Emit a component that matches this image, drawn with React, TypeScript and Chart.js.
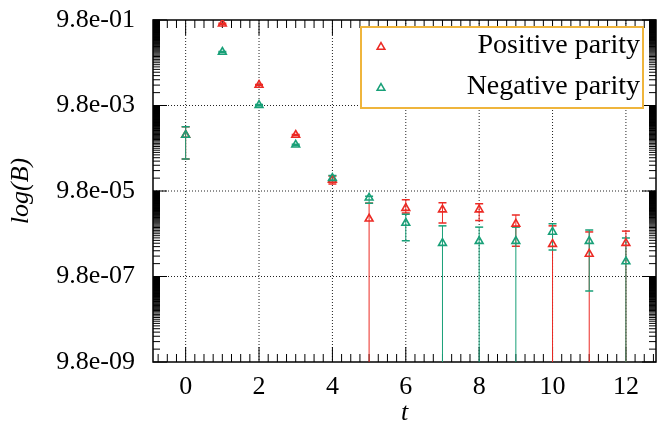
import React, { useEffect, useRef } from "react";
import { Chart, registerables } from "chart.js";

Chart.register(...registerables);

// ---- data ----
const tValues = [0, 1, 2, 3, 4, 5, 6, 7, 8, 9, 10, 11, 12];

const posVal = [2.0e-3, 0.8, 0.0296, 2.0e-3, 1.78e-4, 2.2e-5, 3.9e-5, 3.6e-5, 3.6e-5, 1.67e-5, 5.6e-6, 3.3e-6, 5.9e-6];
const posLo = [5.5e-4, 0.78, 0.029, 1.95e-3, 1.42e-4, 0, 3.0e-5, 1.75e-5, 2.0e-5, 5.0e-6, 0, 0, 0];
const posHi = [3.1e-3, 0.82, 0.0302, 2.05e-3, 2.2e-4, 5.1e-5, 6.1e-5, 5.2e-5, 4.9e-5, 2.7e-5, 1.5e-5, 1.08e-5, 1.13e-5];

const negVal = [2.0e-3, 0.175, 0.0100, 1.18e-3, 1.96e-4, 6.8e-5, 1.75e-5, 5.9e-6, 6.6e-6, 6.6e-6, 1.08e-5, 6.6e-6, 2.2e-6];
const negLo = [5.5e-4, 0.17, 0.0097, 1.14e-3, 1.75e-4, 5.1e-5, 6.7e-6, 0, 0, 0, 4.1e-6, 4.5e-7, 0];
const negHi = [3.1e-3, 0.18, 0.0103, 1.22e-3, 2.25e-4, 7.4e-5, 2.8e-5, 1.5e-5, 1.4e-5, 1.4e-5, 1.67e-5, 1.2e-5, 7.8e-6];

const seriesLabels = ["Positive parity", "Negative parity"];
const seriesColors = ["#ec2a24", "#18a078"];

const yTickValues = [9.8e-9, 9.8e-7, 9.8e-5, 9.8e-3, 9.8e-1];
const yTickLabels = ["9.8e-09", "9.8e-07", "9.8e-05", "9.8e-03", "9.8e-01"];
const xTickValues = [0, 2, 4, 6, 8, 10, 12];

const xTitle = "t";
const yTitle = "log(B)";

const X_MIN = -0.89;
const X_MAX = 12.82;
const Y_MIN = 9.8e-9;
const Y_MAX = 9.8e-1;

const FONT = "'Liberation Serif', 'Times New Roman', serif";

const errLo = [posLo, negLo];
const errHi = [posHi, negHi];

function triangle(ctx: CanvasRenderingContext2D, x: number, y: number, r: number) {
  ctx.beginPath();
  for (let i = 0; i < 3; i++) {
    const ang = -Math.PI / 2 + (i * 2 * Math.PI) / 3;
    const px = x + Math.cos(ang) * r;
    const py = y + Math.sin(ang) * r;
    if (i === 0) ctx.moveTo(px, py);
    else ctx.lineTo(px, py);
  }
  ctx.closePath();
}

const framePlugin = {
  id: "frameTicks",
  beforeDatasetsDraw(chart: any) {
    const { ctx, chartArea: a, scales } = chart;
    const x = scales.x;
    const y = scales.y;
    ctx.save();
    // dotted grid
    ctx.strokeStyle = "#222";
    ctx.lineWidth = 1;
    ctx.setLineDash([1, 2]);
    for (const v of xTickValues) {
      const px = x.getPixelForValue(v);
      ctx.beginPath();
      ctx.moveTo(px, a.top);
      ctx.lineTo(px, a.bottom);
      ctx.stroke();
    }
    for (const v of yTickValues) {
      if (v === Y_MIN || v === Y_MAX) continue;
      const py = y.getPixelForValue(v);
      ctx.beginPath();
      ctx.moveTo(a.left, py);
      ctx.lineTo(a.right, py);
      ctx.stroke();
    }
    ctx.setLineDash([]);

    // x ticks
    ctx.strokeStyle = "#000";
    ctx.lineWidth = 1;
    const start = Math.ceil(X_MIN * 4) / 4;
    for (let v = start; v <= X_MAX + 1e-9; v += 0.25) {
      const isMajor = xTickValues.some((m) => Math.abs(m - v) < 1e-6);
      const len = isMajor ? 15 : 8;
      const px = x.getPixelForValue(v);
      ctx.beginPath();
      ctx.moveTo(px, a.bottom);
      ctx.lineTo(px, a.bottom - len);
      ctx.moveTo(px, a.top);
      ctx.lineTo(px, a.top + len);
      ctx.stroke();
    }
    // y ticks
    for (let i = 0; i < yTickValues.length; i++) {
      const base = yTickValues[i];
      const py = y.getPixelForValue(base);
      ctx.beginPath();
      ctx.moveTo(a.left, py);
      ctx.lineTo(a.left + 14, py);
      ctx.moveTo(a.right, py);
      ctx.lineTo(a.right - 14, py);
      ctx.stroke();
      if (i < yTickValues.length - 1) {
        for (let k = 2; k < 100; k++) {
          const pm = y.getPixelForValue(base * k);
          ctx.beginPath();
          ctx.moveTo(a.left, pm);
          ctx.lineTo(a.left + 7, pm);
          ctx.moveTo(a.right, pm);
          ctx.lineTo(a.right - 7, pm);
          ctx.stroke();
        }
      }
    }
    // frame
    ctx.lineWidth = 1.5;
    ctx.strokeRect(a.left, a.top, a.right - a.left, a.bottom - a.top);

    // error bars
    ctx.beginPath();
    ctx.rect(a.left, a.top, a.right - a.left, a.bottom - a.top);
    ctx.clip();
    for (let d = 0; d < 2; d++) {
      ctx.strokeStyle = seriesColors[d];
      for (let i = 0; i < tValues.length; i++) {
        const px = x.getPixelForValue(tValues[i]);
        const hi = errHi[d][i];
        const lo = errLo[d][i];
        const pyHi = y.getPixelForValue(hi);
        const pyLo = lo > 0 ? y.getPixelForValue(lo) : a.bottom;
        ctx.lineWidth = 1;
        ctx.beginPath();
        ctx.moveTo(px, pyHi);
        ctx.lineTo(px, pyLo);
        ctx.stroke();
        ctx.lineWidth = 1.5;
        ctx.beginPath();
        ctx.moveTo(px - 4, pyHi);
        ctx.lineTo(px + 4, pyHi);
        if (lo > 0) {
          ctx.moveTo(px - 4, pyLo);
          ctx.lineTo(px + 4, pyLo);
        }
        ctx.stroke();
      }
    }
    ctx.restore();
  },
  afterDatasetsDraw(chart: any) {
    const { ctx, chartArea: a } = chart;
    const bw = 282;
    const bh = 81;
    const bx = a.right - 13 - bw;
    const by = a.top + 7;
    ctx.save();
    ctx.fillStyle = "#ffffff";
    ctx.fillRect(bx, by, bw, bh);
    ctx.strokeStyle = "#efb53c";
    ctx.lineWidth = 2;
    ctx.strokeRect(bx, by, bw, bh);
    ctx.font = `28px ${FONT}`;
    ctx.textAlign = "right";
    ctx.textBaseline = "middle";
    ctx.fillStyle = "#000";
    for (let d = 0; d < 2; d++) {
      const cy = by + 20 + d * 41;
      ctx.strokeStyle = seriesColors[d];
      ctx.lineWidth = 1.5;
      triangle(ctx, bx + 20, cy, 4.5);
      ctx.stroke();
      ctx.fillText(seriesLabels[d], bx + bw - 3, cy - 1);
    }
    ctx.restore();
  },
};

export default function App() {
  const canvasRef = useRef<HTMLCanvasElement | null>(null);

  useEffect(() => {
    const canvas = canvasRef.current;
    if (!canvas) return;
    const vals = [posVal, negVal];
    const chart = new Chart(canvas, {
      type: "scatter",
      data: {
        datasets: [0, 1].map((d) => ({
          label: seriesLabels[d],
          data: tValues.map((t, i) => ({ x: t, y: vals[d][i] })),
          order: 1 - d,
          pointStyle: "triangle",
          pointRadius: 4.5,
          pointHoverRadius: 4.5,
          borderWidth: 1.6,
          borderColor: seriesColors[d],
          backgroundColor: "rgba(0,0,0,0)",
          showLine: false,
        })),
      },
      options: {
        animation: false,
        responsive: false,
        devicePixelRatio: 1,
        events: [],
        layout: { autoPadding: false, padding: { left: 0, right: 1, top: 20, bottom: 0 } },
        plugins: {
          legend: { display: false },
          tooltip: { enabled: false },
        },
        scales: {
          x: {
            type: "linear",
            bounds: "data",
            min: X_MIN,
            max: X_MAX,
            grid: { display: false, drawTicks: false, tickLength: 0 },
            border: { display: false },
            afterBuildTicks: (s: any) => {
              s.ticks = xTickValues.map((v) => ({ value: v }));
            },
            afterFit: (s: any) => {
              s.height = 62;
              s.paddingLeft = 0;
              s.paddingRight = 0;
              s.paddingTop = 0;
              s.paddingBottom = 0;
            },
            ticks: {
              font: { family: FONT, size: 26 },
              color: "#000",
              padding: 10,
              maxRotation: 0,
              autoSkip: false,
            },
            title: {
              display: true,
              text: xTitle,
              color: "#000",
              font: { family: FONT, size: 26, style: "italic", lineHeight: 1 },
              padding: { top: 0, bottom: -2 },
            },
          },
          y: {
            type: "logarithmic",
            bounds: "data",
            min: Y_MIN,
            max: Y_MAX,
            grid: { display: false, drawTicks: false, tickLength: 0 },
            border: { display: false },
            afterBuildTicks: (s: any) => {
              s.ticks = yTickValues.map((v) => ({ value: v }));
            },
            afterFit: (s: any) => {
              s.width = 153;
              s.paddingLeft = 0;
              s.paddingRight = 0;
              s.paddingTop = 0;
              s.paddingBottom = 0;
            },
            ticks: {
              font: { family: FONT, size: 26 },
              color: "#000",
              padding: 18,
              autoSkip: false,
              callback: (_v: any, i: number) => yTickLabels[i],
            },
            title: {
              display: true,
              text: yTitle,
              color: "#000",
              font: { family: FONT, size: 26, style: "italic" },
              padding: { top: 6, bottom: 0 },
            },
          },
        },
      },
      plugins: [framePlugin],
    } as any);
    return () => chart.destroy();
  }, []);

  return (
    <div style={{ position: "fixed", left: 0, top: 0, width: 657, height: 424, background: "#fff" }}>
      <canvas ref={canvasRef} width={657} height={424} style={{ width: 657, height: 424, display: "block" }} />
    </div>
  );
}
